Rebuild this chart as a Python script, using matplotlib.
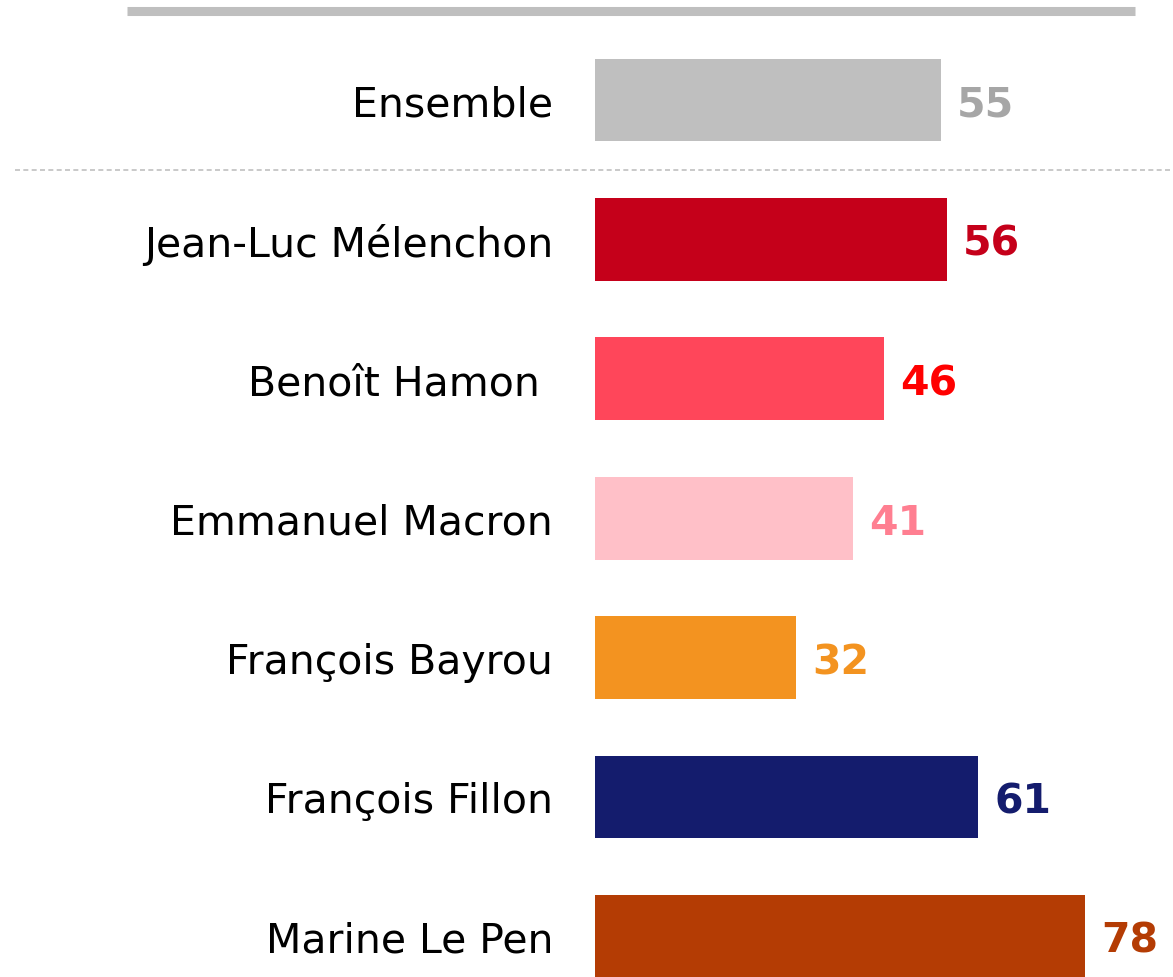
import matplotlib
matplotlib.use("Agg")
import matplotlib.pyplot as plt

names = ["Ensemble", "Jean-Luc Mélenchon", "Benoît Hamon ", "Emmanuel Macron",
         "François Bayrou", "François Fillon", "Marine Le Pen"]
values = [55, 56, 46, 41, 32, 61, 78]
bar_colors = ["#bfbfbf", "#c5001a", "#ff465a", "#ffc0c8", "#f39320", "#141c6d", "#b43c04"]
text_colors = ["#a6a6a6", "#c5001a", "#ff0000", "#ff7f91", "#f39320", "#141c6d", "#b43c04"]

W, H = 1173, 978
fig = plt.figure(figsize=(W / 100, H / 100), dpi=100)
ax = fig.add_axes([0, 0, 1, 1])

# pixel-ish mapping: bars start at x=595px, ~6.285px per point, rows ~139.4px apart
px_per_unit = 6.285
row = 139.4
ax.set_xlim(-595 / px_per_unit, (W - 595) / px_per_unit)
ax.set_ylim((H - 101) / row, -101 / row)
ax.axis("off")

pos = list(range(len(names)))
ax.barh(pos, values, height=0.595, color=bar_colors)

for i, (n, v) in enumerate(zip(names, values)):
    ax.annotate(n, xy=(0, i), xytext=(-42, 0), textcoords="offset pixels",
                ha="right", va="center_baseline", fontsize=29.5,
                family="DejaVu Sans", color="black")
    ax.annotate(str(v), xy=(v, i), xytext=(16, 0), textcoords="offset pixels",
                ha="left", va="center_baseline", fontsize=29.5, fontweight="bold",
                family="DejaVu Sans", color=text_colors[i])

# thick grey rule on top, dashed separator under the "Ensemble" row
ax.axhline(-89.5 / row, xmin=127 / W, xmax=1135 / W, color="#bfbfbf", lw=6.5, solid_capstyle="butt")
ax.axhline(0.5, xmin=15 / W, xmax=1, color="#c0c0c0", lw=1.2, ls=(0, (3, 2)))

fig.savefig("out.png", dpi=100)
